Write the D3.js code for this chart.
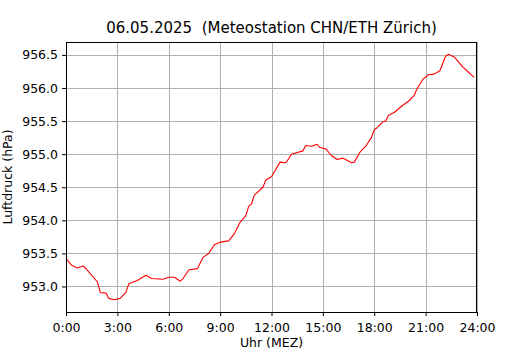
<!DOCTYPE html>
<html>
<head>
<meta charset="utf-8">
<script src="https://cdn.jsdelivr.net/npm/d3@7"></script>
<style>
body { margin: 0; background: #fff; }
text { font-family: "DejaVu Sans", sans-serif; fill: #000; }
</style>
</head>
<body>
<div id="chart"></div>
<script>
// readings (time of day, pressure in hPa)
var times = ["0:00","0:20","0:40","1:00","1:10","1:30","1:50","2:00","2:20","2:30","2:50","3:10","3:30","3:40",
    "4:10","4:40","5:00","5:40","6:00","6:20","6:40","6:50","7:10","7:40","8:00","8:20","8:40","9:00","9:30","9:50",
    "10:10","10:30","10:40","10:50","11:00","11:30","11:40","12:00","12:30","12:50","13:00","13:10","13:50","14:00",
    "14:20","14:40","14:50","15:10","15:30","15:50","16:10","16:20","16:40","16:50","17:10","17:30","17:50","18:00",
    "18:10","18:30","18:40","18:50","19:10","19:40","20:00","20:20","20:30","20:50","21:10","21:30","21:50","22:10",
    "22:20","22:40","22:50","23:10","23:20","23:40","23:50"];
var pressure = [953.42,953.32,953.28,953.31,953.27,953.17,953.07,952.91,952.90,952.82,952.80,952.82,952.91,953.04,
    953.09,953.17,953.12,953.11,953.14,953.14,953.08,953.12,953.25,953.27,953.44,953.50,953.63,953.67,953.69,953.80,
    953.97,954.07,954.21,954.25,954.38,954.50,954.61,954.66,954.88,954.87,954.93,955.00,955.05,955.13,
    955.12,955.15,955.10,955.08,954.98,954.92,954.94,954.92,954.87,954.88,955.03,955.12,955.25,955.37,
    955.40,955.49,955.50,955.59,955.63,955.74,955.80,955.89,955.99,956.13,956.20,956.21,956.26,956.48,
    956.51,956.47,956.42,956.32,956.28,956.20,956.16];
var xTicks = [0,3,6,9,12,15,18,21,24];
var yTicks = [953.0,953.5,954.0,954.5,955.0,955.5,956.0,956.5];
var title = "06.05.2025\u00a0\u00a0(Meteostation CHN/ETH Zürich)";

var width = 530, height = 350;
var margin = {top: 42, right: 53, bottom: 38, left: 66};

function toHours(t) {
    var p = t.split(":");
    return +p[0] + p[1] / 60;
}

var data = times.map(function(t, i) {
    return {h: toHours(t), p: pressure[i]};
});

var svg = d3.select("#chart").append("svg")
    .attr("width", width)
    .attr("height", height);

var x = d3.scaleLinear().domain([0, 24]).range([margin.left, width - margin.right]);
var yMin = d3.min(pressure), yMax = d3.max(pressure);
var pad = (yMax - yMin) * 0.05;
var y = d3.scaleLinear().domain([yMin - pad, yMax + pad]).range([height - margin.bottom, margin.top]);

// grid
svg.append("g").selectAll("line.gx")
    .data(xTicks).enter().append("line")
    .attr("x1", d => Math.round(x(d)) + 0.5).attr("x2", d => Math.round(x(d)) + 0.5)
    .attr("y1", margin.top).attr("y2", height - margin.bottom)
    .attr("stroke", "#b0b0b0").attr("stroke-width", 1);
svg.append("g").selectAll("line.gy")
    .data(yTicks).enter().append("line")
    .attr("y1", d => Math.round(y(d)) + 0.5).attr("y2", d => Math.round(y(d)) + 0.5)
    .attr("x1", margin.left).attr("x2", width - margin.right)
    .attr("stroke", "#b0b0b0").attr("stroke-width", 1);

// line
var line = d3.line().x(d => x(d.h)).y(d => y(d.p));
svg.append("path")
    .datum(data)
    .attr("d", line)
    .attr("fill", "none")
    .attr("stroke", "#ff0000")
    .attr("stroke-width", 1.1)
    .attr("stroke-linejoin", "round");

// axes
var xAxis = svg.append("g")
    .attr("transform", "translate(0," + (height - margin.bottom) + ")")
    .call(d3.axisBottom(x).tickValues(xTicks).tickSize(4).tickPadding(7)
        .tickFormat(d => d + ":00"));
var yAxis = svg.append("g")
    .attr("transform", "translate(" + margin.left + ",0)")
    .call(d3.axisLeft(y).tickValues(yTicks).tickSize(4).tickPadding(4)
        .tickFormat(d3.format(".1f")));
[xAxis, yAxis].forEach(function(g) {
    g.selectAll("text").style("font-size", "12.5px").style("font-family", "DejaVu Sans");
    g.select(".domain").remove();
    g.selectAll("line").attr("stroke", "#000");
});

// frame
svg.append("rect")
    .attr("x", margin.left + 0.5).attr("y", margin.top + 0.5)
    .attr("width", width - margin.left - margin.right - 1)
    .attr("height", height - margin.top - margin.bottom)
    .attr("fill", "none").attr("stroke", "#000").attr("stroke-width", 1);

// labels
svg.append("text")
    .attr("x", (margin.left + width - margin.right) / 2)
    .attr("y", 33)
    .attr("text-anchor", "middle")
    .style("font-size", "15px")
    .text(title);
svg.append("text")
    .attr("x", (margin.left + width - margin.right) / 2)
    .attr("y", 347)
    .attr("text-anchor", "middle")
    .style("font-size", "12.5px")
    .text("Uhr (MEZ)");
svg.append("text")
    .attr("transform", "translate(12," + ((margin.top + height - margin.bottom) / 2) + ") rotate(-90)")
    .attr("text-anchor", "middle")
    .style("font-size", "12.5px")
    .text("Luftdruck (hPa)");
</script>
</body>
</html>
